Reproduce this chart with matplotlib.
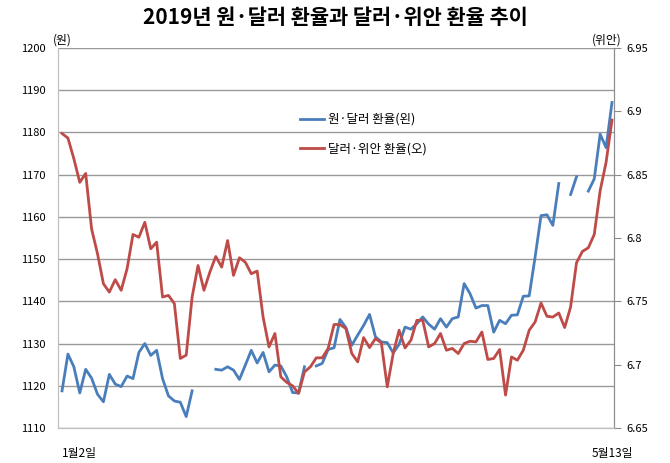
import numpy as np
import matplotlib
matplotlib.use('Agg')
import matplotlib.pyplot as plt

plt.rcParams['font.family'] = ['Noto Sans CJK KR', 'DejaVu Sans']

title = '2019년 원·달러 환율과 달러·위안 환율 추이'
krw_label = '원·달러 환율(왼)'
cny_label = '달러·위안 환율(오)'
x_labels = ['1월2일', '5월13일']

nan = np.nan
# 원·달러 (left axis), one value per weekday from 1/2 to 5/13, nan = market closed
krw = [1118.8, 1127.5, 1124.5, 1118.3, 1123.9, 1121.8, 1118.0, 1116.2, 1122.7, 1120.4,
       1119.8, 1122.3, 1121.7, 1127.9, 1130.0, 1127.2, 1128.4, 1121.7, 1117.6, 1116.4,
       1116.1, 1112.7, 1118.8, nan, nan, nan, 1123.9, 1123.7, 1124.5, 1123.7,
       1121.5, 1124.9, 1128.4, 1125.4, 1127.9, 1123.3, 1124.9, 1124.7, 1122.1, 1118.4,
       1118.3, 1124.5, nan, 1124.7, 1125.3, 1128.6, 1129.0, 1135.7, 1133.8, 1129.6,
       1132.0, 1134.3, 1136.9, 1131.6, 1130.4, 1130.2, 1127.8, 1129.8, 1133.9, 1133.4,
       1134.7, 1136.3, 1134.6, 1133.4, 1135.9, 1133.9, 1135.9, 1136.3, 1144.2, 1141.8,
       1138.4, 1139.0, 1139.0, 1132.7, 1135.5, 1134.7, 1136.7, 1136.8, 1141.2, 1141.3,
       1150.5, 1160.3, 1160.5, 1158.0, 1167.9, nan, 1165.3, 1169.5, nan, 1166.1,
       1169.0, 1179.6, 1176.4, 1187.1]
# 달러·위안 (right axis)
cny = [6.8825, 6.8789, 6.8626, 6.8439, 6.8510, 6.8072, 6.7876, 6.7639, 6.7573, 6.7671,
       6.7587, 6.7757, 6.8028, 6.8006, 6.8124, 6.7915, 6.7967, 6.7534, 6.7547, 6.7482,
       6.7049, 6.7075, 6.7534, 6.7783, 6.7587, 6.7731, 6.7854, 6.7770, 6.7980, 6.7705,
       6.7844, 6.7809, 6.7718, 6.7739, 6.7376, 6.7140, 6.7246, 6.6904, 6.6860, 6.6833,
       6.6773, 6.6943, 6.6983, 6.7054, 6.7054, 6.7128, 6.7317, 6.7317, 6.7285, 6.7088,
       6.7022, 6.7214, 6.7135, 6.7206, 6.7172, 6.6825, 6.7088, 6.7272, 6.7132, 6.7193,
       6.7350, 6.7350, 6.7140, 6.7167, 6.7246, 6.7114, 6.7128, 6.7088, 6.7167, 6.7185,
       6.7180, 6.7258, 6.7041, 6.7049, 6.7120, 6.6760, 6.7061, 6.7035, 6.7114, 6.7272,
       6.7337, 6.7487, 6.7382, 6.7376, 6.7408, 6.7293, 6.7455, 6.7805, 6.7894, 6.7923,
       6.8028, 6.8374, 6.8597, 6.8931]

left_ticks = list(range(1110, 1201, 10))
right_ticks = [6.65, 6.7, 6.75, 6.8, 6.85, 6.9, 6.95]

x = np.arange(len(krw))

fig = plt.figure(figsize=(6.7, 4.63), dpi=100)
ax = fig.add_axes([58 / 670, 1 - 428 / 463, 556 / 670, 380 / 463])
ax2 = ax.twinx()

ax.set_ylim(1110, 1200)
ax.set_yticks(left_ticks)
ax.set_yticklabels([str(t) for t in left_ticks], fontsize=8)
ax.yaxis.grid(True, color='#999999', linewidth=1)
ax.set_axisbelow(True)
ax.tick_params(axis='y', length=0, pad=9)
ax.set_xlim(-0.68, 93.34)
ax.set_xticks([0, 93])
ax.set_xticklabels(x_labels, fontsize=8.5)
ax.tick_params(axis='x', length=0, pad=14)
xt = ax.get_xticklabels()
xt[0].set_ha('left')
xt[0].set_x(-0.6)

ax2.set_ylim(6.65, 6.95)
ax2.set_yticks(right_ticks)
ax2.set_yticklabels([f'{t:g}' for t in right_ticks], fontsize=8)
ax2.tick_params(axis='y', length=5, color='#8c8c8c', pad=4)

for a in (ax, ax2):
    a.spines['top'].set_visible(False)
    a.spines['left'].set_color('#bfbfbf')
    a.spines['right'].set_color('#8c8c8c')
    a.spines['bottom'].set_color('#bfbfbf')

l1, = ax.plot(x, krw, color='#4a7ebb', linewidth=2.0, label=krw_label)
l2, = ax2.plot(x, cny, color='#be4b48', linewidth=2.0, label=cny_label)

fig.legend([l1, l2], [krw_label, cny_label], loc='upper left',
           bbox_to_anchor=(300 / 670, 1 - 113 / 463), frameon=False,
           fontsize=9, borderpad=0, borderaxespad=0, labelspacing=1.3,
           handlelength=1.9, handletextpad=0.35)

fig.text(335 / 670, 1 - 18 / 463, title, ha='center', va='center',
         fontsize=15, fontweight='bold')
fig.text(53 / 670, 1 - 40 / 463, '(원)', ha='left', va='center', fontsize=8.5)
fig.text(622 / 670, 1 - 40 / 463, '(위안)', ha='right', va='center', fontsize=8.5)

fig.savefig('out.png', dpi=100)
